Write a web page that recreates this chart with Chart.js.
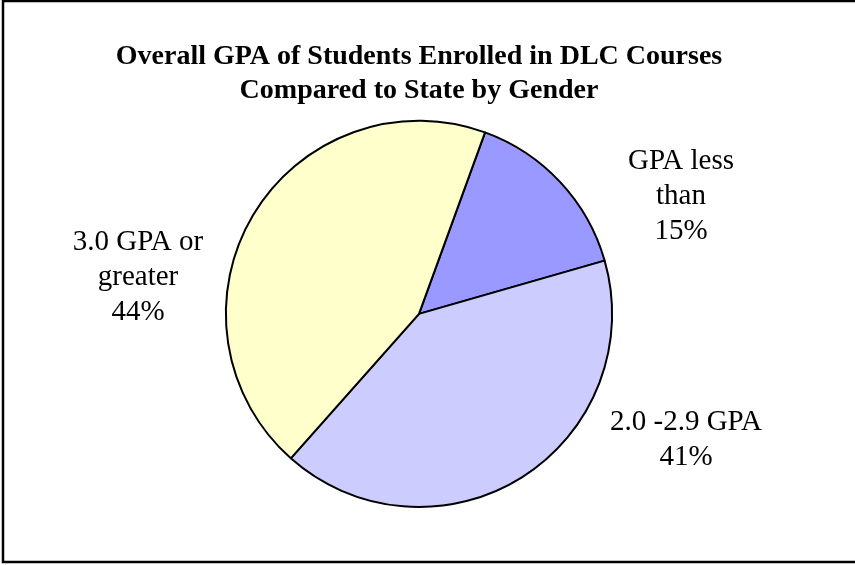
<!DOCTYPE html>
<html>
<head>
<meta charset="utf-8">
<script src="https://cdn.jsdelivr.net/npm/chart.js@4/dist/chart.umd.min.js"></script>
<style>
  html, body { margin: 0; padding: 0; background: #fff; }
  #wrap { width: 855px; height: 565px; }
</style>
</head>
<body>
<div id="wrap"><canvas id="gpaChart" width="855" height="565"></canvas></div>
<script>
// GPA bands and their share of students
const categories = [["GPA less", "than"], ["2.0 -2.9 GPA"], ["3.0 GPA or", "greater"]];
const shares = [15, 41, 44];
const sliceColors = ["#9999FF", "#CCCCFF", "#FFFFCC"];

// where each label block sits, relative to the pie centre
const labelOffsets = [
    { dx: 262, dy: -117 },
    { dx: 267, dy: 126 },
    { dx: -281, dy: -36 }
];

const frame = {
    id: "frame",
    afterDraw(chart) {
        const ctx = chart.ctx;
        ctx.save();
        ctx.strokeStyle = "#000";
        ctx.lineWidth = 2.5;
        ctx.strokeRect(3, 1, 880, 561);
        ctx.restore();
    }
};

const sliceLabels = {
    id: "sliceLabels",
    afterDatasetsDraw(chart) {
        const ctx = chart.ctx;
        const meta = chart.getDatasetMeta(0);
        const data = chart.data.datasets[0].data;
        const total = data.reduce((a, b) => a + b, 0);
        ctx.save();
        ctx.font = "29px 'Liberation Serif', 'Times New Roman', serif";
        ctx.fillStyle = "#000";
        ctx.textAlign = "center";
        ctx.textBaseline = "middle";
        const lineH = 35;
        meta.data.forEach((arc, i) => {
            const lines = [].concat(chart.data.labels[i]);
            lines.push(Math.round(data[i] / total * 100) + "%");
            const cx = arc.x + labelOffsets[i].dx;
            const cy = arc.y + labelOffsets[i].dy;
            const top = cy - (lines.length - 1) * lineH / 2;
            lines.forEach((t, k) => ctx.fillText(t, cx, top + k * lineH));
        });
        ctx.restore();
    }
};

const ctx = document.getElementById("gpaChart").getContext("2d");
new Chart(ctx, {
    type: "pie",
    data: {
        labels: categories,
        datasets: [{
            data: shares,
            backgroundColor: sliceColors,
            borderColor: "#000",
            borderWidth: 2
        }]
    },
    options: {
        responsive: false,
        animation: false,
        rotation: 20,
        layout: { padding: { top: 0, left: 0, right: 17, bottom: 57 } },
        plugins: {
            legend: { display: false },
            tooltip: { enabled: false },
            title: {
                display: true,
                text: ["Overall GPA of Students Enrolled in DLC Courses", "Compared to State by Gender"],
                color: "#000",
                font: { family: "'Liberation Serif', 'Times New Roman', serif", size: 28, weight: "bold", lineHeight: 1.21 },
                padding: { top: 40, bottom: 12 }
            }
        }
    },
    plugins: [sliceLabels, frame]
});
</script>
</body>
</html>
